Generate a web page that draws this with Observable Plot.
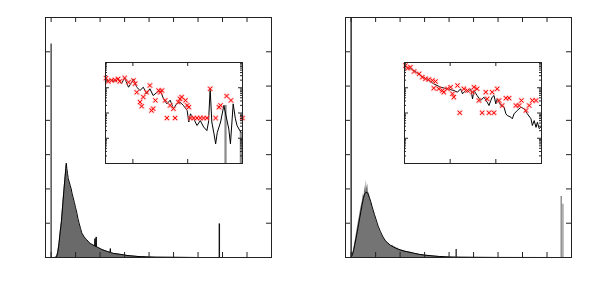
<!DOCTYPE html>
<html><head><meta charset="utf-8">
<script src="https://cdn.jsdelivr.net/npm/d3@7"></script>
<script src="https://cdn.jsdelivr.net/npm/@observablehq/plot@0.6"></script>
<style>
html,body{margin:0;padding:0;background:#fff;}
#wrap{position:relative;width:597px;height:299px;overflow:hidden;background:#fff;}
#wrap svg{position:absolute;}
</style></head><body><div id="wrap"></div>
<script>
// ---------- tick values ----------
const mainXTicks = [0,1,2,3,4,5,6,7,8];
const mainYTicks = [1,2,3,4,5,6];
const insetLeftXTicks = [0.5,1.5];
const insetRightXTicks = [1,2];
const insetYMajor = [1e-3,1e-2,1e-1];
const insetYMinor = [2e-4,3e-4,4e-4,5e-4,6e-4,7e-4,8e-4,9e-4,
  2e-3,3e-3,4e-3,5e-3,6e-3,7e-3,8e-3,9e-3,
  2e-2,3e-2,4e-2,5e-2,6e-2,7e-2,8e-2,9e-2,
  0.2,0.3,0.4,0.5,0.6,0.7,0.8,0.9];

// ---------- left panel histogram ----------
const leftHistX = [0.15,0.22,0.27,0.32,0.37,0.42,0.47,0.52,0.57,0.60,0.62,0.64,0.67,0.70,0.74,0.78,0.82,0.86,0.90,0.95,1.00,1.05,1.10,1.15,1.20,1.25,1.30,1.35,1.40,1.45,1.50,1.55,1.60,1.65,1.70,1.75,1.78,1.79,1.80,1.83,1.84,1.85,1.90,1.95,2.00,2.08,2.16,2.24,2.32,2.40,2.41,2.42,2.43,2.45,2.55,2.65,2.75,2.85,2.95,3.10,3.25,3.40,3.55,3.70,3.85,4.00,4.30,5.00,6.00,9.00];
const leftHistY = [0,0.02,0.15,0.4,0.75,1.05,1.5,1.95,2.35,2.6,2.75,2.6,2.45,2.3,2.2,2.1,2.0,1.85,1.75,1.6,1.45,1.3,1.12,0.98,0.85,0.72,0.66,0.6,0.56,0.52,0.48,0.44,0.41,0.39,0.37,0.35,0.34,0.55,0.33,0.32,0.6,0.31,0.3,0.28,0.26,0.23,0.21,0.19,0.17,0.15,0.15,0.26,0.15,0.14,0.12,0.11,0.1,0.09,0.08,0.06,0.05,0.04,0.03,0.025,0.02,0.015,0.01,0.005,0,0];
const leftSpikeX = [0, 6.87];
const leftSpikeY = [6.23, 0.98];

// ---------- right panel histogram ----------
const rightHistX = [0.02,0.06,0.10,0.14,0.18,0.22,0.26,0.30,0.34,0.38,0.42,0.46,0.50,0.53,0.56,0.59,0.62,0.65,0.68,0.71,0.74,0.77,0.80,0.84,0.88,0.92,0.96,1.00,1.04,1.08,1.12,1.16,1.20,1.25,1.30,1.35,1.40,1.45,1.50,1.55,1.60,1.65,1.70,1.75,1.80,1.85,1.90,1.95,2.00,2.10,2.20,2.30,2.40,2.50,2.60,2.70,2.80,2.90,3.00,3.20,3.40,3.60,3.80,4.00,4.20,4.60,5.00,6.00,8.00,9.00];
const rightHistY = [0.05,0.12,0.22,0.38,0.55,0.72,0.88,1.05,1.2,1.38,1.52,1.65,1.85,1.78,2.1,1.9,2.25,2.0,2.15,1.85,1.9,1.72,1.68,1.55,1.42,1.35,1.25,1.15,1.05,0.95,0.88,0.8,0.74,0.66,0.6,0.54,0.5,0.46,0.42,0.4,0.36,0.34,0.36,0.3,0.31,0.27,0.28,0.24,0.23,0.21,0.19,0.17,0.16,0.14,0.12,0.11,0.09,0.08,0.07,0.05,0.04,0.03,0.02,0.015,0.01,0.008,0.005,0.003,0.002,0];
const rightFitX = [0,0.05,0.1,0.15,0.2,0.25,0.3,0.35,0.4,0.45,0.5,0.55,0.6,0.65,0.7,0.75,0.8,0.85,0.9,0.95,1.0,1.1,1.2,1.3,1.4,1.5,1.6,1.8,2.0,2.2,2.4,2.6,2.8,3.0,3.3,3.6,4.0,4.5,5.0,6.0,7.0,8.5];
const rightFitY = [0,0.08,0.2,0.38,0.56,0.75,0.95,1.15,1.35,1.55,1.72,1.85,1.9,1.9,1.84,1.74,1.63,1.5,1.38,1.26,1.15,0.92,0.75,0.6,0.49,0.42,0.36,0.28,0.22,0.18,0.15,0.12,0.09,0.07,0.05,0.03,0.015,0.008,0.004,0.002,0.001,0];
const rightSpikeX = [0, 4.29, 8.58, 8.65];
const rightSpikeY = [7, 0.23, 1.78, 1.55];

// ---------- left inset ----------
const leftLineX = [0.01,0.08,0.17,0.23,0.29,0.35,0.42,0.48,0.51,0.57,0.63,0.69,0.75,0.81,0.87,0.94,1.00,1.06,1.12,1.18,1.24,1.30,1.36,1.42,1.49,1.52,1.55,1.61,1.67,1.73,1.79,1.85,1.88,1.91,1.94,1.98,2.01,2.04,2.10,2.16,2.25,2.28,2.33,2.37,2.40,2.47];
const leftLineY = [0.166,0.214,0.178,0.224,0.145,0.24,0.105,0.166,0.214,0.105,0.078,0.105,0.058,0.091,0.049,0.066,0.078,0.036,0.023,0.032,0.015,0.023,0.027,0.020,0.0126,0.0044,0.0093,0.0059,0.0032,0.005,0.0028,0.002,0.0044,0.091,0.0044,0.0015,0.0006,0.0017,0.0044,0.020,0.0023,0.0006,0.023,0.0059,0.0032,0.0017];
const leftDropX = [2.19, 2.47];
const leftDropY = [0.02, 0.0017];
const leftMarkX = [0.01,0.05,0.11,0.17,0.23,0.26,0.35,0.42,0.51,0.54,0.57,0.63,0.66,0.69,0.75,0.81,0.84,0.87,0.91,0.97,1.00,1.03,1.09,1.12,1.18,1.24,1.27,1.33,1.36,1.39,1.46,1.49,1.52,1.55,1.61,1.67,1.73,1.79,1.85,1.91,2.01,2.07,2.10,2.21,2.29,2.50];
const leftMarkY = [0.24,0.178,0.195,0.204,0.224,0.178,0.245,0.166,0.195,0.145,0.066,0.027,0.0186,0.0427,0.066,0.123,0.0126,0.0148,0.0316,0.0776,0.066,0.0776,0.0316,0.0063,0.02,0.0148,0.0063,0.027,0.0363,0.0427,0.0316,0.02,0.017,0.0063,0.0063,0.0063,0.0063,0.0063,0.0063,0.0912,0.0063,0.017,0.02,0.0468,0.0316,0.0063];

// ---------- right inset ----------
const rightLineX = [0.02,0.06,0.21,0.35,0.50,0.64,0.79,0.94,1.08,1.16,1.23,1.27,1.34,1.38,1.45,1.49,1.52,1.59,1.67,1.74,1.81,1.85,1.89,1.92,1.96,2.00,2.03,2.11,2.18,2.22,2.25,2.33,2.36,2.40,2.47,2.55,2.62,2.69,2.77,2.80,2.84,2.88,2.91,2.95,2.98];
const rightLineY = [0.76,0.653,0.48,0.305,0.212,0.143,0.105,0.0906,0.0778,0.0668,0.0906,0.0575,0.0778,0.0668,0.0906,0.0363,0.0778,0.0493,0.0313,0.0424,0.0269,0.0198,0.0313,0.0424,0.0493,0.0231,0.0363,0.0198,0.017,0.0093,0.008,0.0068,0.0059,0.0093,0.0126,0.017,0.0146,0.0093,0.0059,0.0032,0.005,0.0027,0.0043,0.0024,0.0027];
const rightMarkX = [0.02,0.07,0.13,0.21,0.32,0.39,0.46,0.53,0.61,0.64,0.68,0.75,0.83,0.86,0.94,1.01,1.05,1.08,1.16,1.21,1.30,1.38,1.49,1.52,1.59,1.63,1.70,1.78,1.81,1.85,1.92,1.96,2.03,2.07,2.14,2.22,2.29,2.44,2.51,2.56,2.66,2.73,2.80,2.88];
const rightMarkY = [0.76,0.597,0.653,0.44,0.356,0.262,0.226,0.212,0.194,0.0962,0.177,0.0906,0.0778,0.0668,0.0906,0.105,0.0575,0.0424,0.123,0.0102,0.0906,0.0778,0.0668,0.105,0.0906,0.0313,0.0102,0.0668,0.0363,0.0102,0.0668,0.0102,0.0906,0.0313,0.0198,0.0387,0.0387,0.0198,0.0198,0.0313,0.0126,0.0198,0.0313,0.0313];

const zip = (xs, ys) => xs.map((x, i) => ({x, y: ys[i]}));
const wrap = document.getElementById("wrap");
const M = 5;

function place(svg, left, top) {
  svg.style.left = left + "px";
  svg.style.top = top + "px";
  wrap.appendChild(svg);
}

function borderTicks(xt, yt, W, H, L, stroke) {
  const o = {stroke, strokeWidth: 1};
  return [
    Plot.tickX(xt, {x: d => d, insetTop: H - L, ...o}),
    Plot.tickX(xt, {x: d => d, insetBottom: H - L, ...o}),
    Plot.tickY(yt, {y: d => d, insetRight: W - L, ...o}),
    Plot.tickY(yt, {y: d => d, insetLeft: W - L, ...o})
  ];
}

function mainPanel(hist, fit, spikes, spikeColors, fill) {
  const W = 226, H = 240;
  return Plot.plot({
    width: W + 2 * M, height: H + 2 * M, margin: M,
    x: {domain: [-0.23, 9], axis: null},
    y: {domain: [0, 7], axis: null},
    style: {background: "transparent"},
    marks: [
      Plot.areaY(hist, {x: "x", y: "y", fill, clip: true}),
      Plot.lineY(fit, {x: "x", y: "y", stroke: "#000", strokeWidth: 1, clip: true}),
      Plot.ruleX(spikes, {x: "x", y1: 0, y2: "y", stroke: (d, i) => spikeColors[i], strokeWidth: 1.4, clip: true}),
      ...borderTicks(mainXTicks, mainYTicks, W, H, 5, "#222"),
      Plot.frame({stroke: "#222", strokeWidth: 1})
    ]
  });
}

function insetPanel(line, marks, xDomain, xTicks, drops) {
  const W = 137, H = 101;
  return Plot.plot({
    width: W + 2 * M, height: H + 2 * M, margin: M,
    x: {domain: xDomain, axis: null},
    y: {type: "log", domain: [1e-4, 1], axis: null},
    style: {background: "transparent"},
    marks: [
      Plot.frame({fill: "#fff", stroke: null}),
      Plot.ruleX(drops, {x: "x", y1: 1e-4, y2: "y", stroke: "#8a8a8a", strokeWidth: 2.2, clip: true}),
      Plot.lineY(line, {x: "x", y: "y", stroke: "#000", strokeWidth: 1, clip: true}),
      Plot.dot(marks, {x: "x", y: "y", symbol: "times", r: 2.3, stroke: "#ff9090", strokeOpacity: 0.5, strokeWidth: 2.4}),
      Plot.dot(marks, {x: "x", y: "y", symbol: "times", r: 2.0, stroke: "#ff0000", strokeWidth: 1}),
      ...borderTicks(xTicks, insetYMajor, W, H, 4, "#222"),
      Plot.tickY(insetYMinor, {y: d => d, insetRight: W - 2, stroke: "#222"}),
      Plot.tickY(insetYMinor, {y: d => d, insetLeft: W - 2, stroke: "#222"}),
      Plot.frame({stroke: "#222", strokeWidth: 1})
    ]
  });
}

place(mainPanel(zip(leftHistX, leftHistY), zip(leftHistX, leftHistY),
  zip(leftSpikeX, leftSpikeY), ["#444", "#111"], "#6a6a6a"), 45 - M, 17 - M);
place(mainPanel(zip(rightHistX, rightHistY), zip(rightFitX, rightFitY),
  zip(rightSpikeX, rightSpikeY), ["#222", "#333", "#888", "#999"], "#747474"), 345 - M, 17 - M);
place(insetPanel(zip(leftLineX, leftLineY), zip(leftMarkX, leftMarkY), [0, 2.5], insetLeftXTicks,
  zip(leftDropX, leftDropY)), 105 - M, 62 - M);
place(insetPanel(zip(rightLineX, rightLineY), zip(rightMarkX, rightMarkY), [0, 3], insetRightXTicks,
  []), 404 - M, 62 - M);
</script>
</body></html>
